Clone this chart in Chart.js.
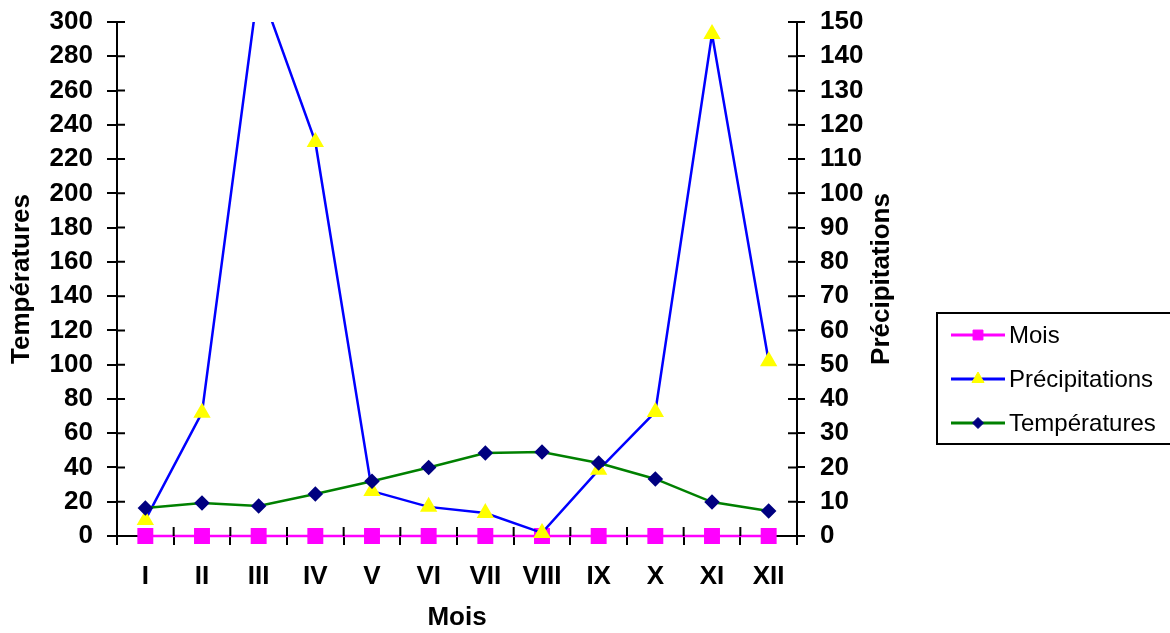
<!DOCTYPE html>
<html>
<head>
<meta charset="utf-8">
<script src="https://cdn.jsdelivr.net/npm/chart.js@4.4.0/dist/chart.umd.min.js"></script>
<style>
  html, body { margin: 0; padding: 0; background: #fff; }
  #wrap { width: 1170px; height: 633px; position: relative; }
</style>
</head>
<body>
<div id="wrap"><canvas id="myChart"></canvas></div>
<script>
// donnees
var mois = ["I", "II", "III", "IV", "V", "VI", "VII", "VIII", "IX", "X", "XI", "XII"];
var moisValeurs = [0, 0, 0, 0, 0, 0, 0, 0, 0, 0, 0, 0];
var precipitations = [4.7, 36, 161, 115, 13.1, 8.5, 6.7, 0.9, 19.3, 36.2, 146.5, 51];
var temperatures = [16.3, 19.3, 17.5, 24.5, 32, 40, 48.4, 49, 42.6, 33.3, 19.8, 14.6];
var ticksTemp = [0, 300, 20];
var ticksPrec = [0, 150, 10];

var fontGras = { family: "'Liberation Sans', Arial, sans-serif", size: 26, weight: 'bold', lineHeight: 1.15 };
var clipBas = { left: 15, top: 0, right: 15, bottom: 15 };

// petits traits vers l'interieur + titre de droite + legende
var extras = {
  id: 'extras',
  afterDraw: function(chart) {
    var ctx = chart.ctx;
    var area = chart.chartArea;
    var yl = chart.scales.yTemp, yr = chart.scales.yPrec, x = chart.scales.x;
    ctx.save();
    ctx.strokeStyle = '#000';
    ctx.lineWidth = 2;
    ctx.beginPath();
    for (var i = 1; i < yl.ticks.length; i++) {
      var p = yl.getPixelForTick(i);
      ctx.moveTo(area.left, p); ctx.lineTo(area.left + 8, p);
    }
    for (var j = 1; j < yr.ticks.length; j++) {
      var q = yr.getPixelForTick(j);
      ctx.moveTo(area.right, q); ctx.lineTo(area.right - 9, q);
    }
    for (var k = 1; k < mois.length; k++) {
      var px = x.getPixelForValue(k - 0.5);
      ctx.moveTo(px, area.bottom); ctx.lineTo(px, area.bottom - 9);
    }
    ctx.stroke();

    // titre axe droit (lu de bas en haut)
    ctx.fillStyle = '#000';
    ctx.font = 'bold 26px "Liberation Sans", Arial, sans-serif';
    ctx.textAlign = 'center';
    ctx.textBaseline = 'middle';
    ctx.translate(882, (area.top + area.bottom) / 2);
    ctx.rotate(-Math.PI / 2);
    ctx.fillText('Précipitations', 0, 0);
    ctx.restore();

    // legende
    ctx.save();
    ctx.strokeStyle = '#000';
    ctx.lineWidth = 2;
    ctx.strokeRect(937, 313, 240, 131);
    var ys = [335, 379, 423];
    chart.data.datasets.forEach(function(ds, n) {
      var y = ys[n];
      ctx.strokeStyle = ds.borderColor;
      ctx.lineWidth = 3;
      ctx.beginPath();
      ctx.moveTo(951, y); ctx.lineTo(1005, y);
      ctx.stroke();
      ctx.fillStyle = ds.pointBackgroundColor;
      ctx.strokeStyle = ds.pointBorderColor;
      ctx.lineWidth = 1;
      Chart.helpers.drawPoint(ctx, { pointStyle: ds.pointStyle, radius: ds.legendRadius, borderWidth: 1 }, 978, y);
      ctx.fillStyle = '#000';
      ctx.font = '24px "Liberation Sans", Arial, sans-serif';
      ctx.textAlign = 'left';
      ctx.textBaseline = 'middle';
      ctx.fillText(ds.label, 1009, y + 1);
    });
    ctx.restore();
  }
};

function sansMarge(s) {
  s.paddingTop = 0;
  s.paddingBottom = 0;
}

var myChart = document.querySelector('#myChart').getContext('2d');

window.climChart = new Chart(myChart, {
  type: 'line',
  data: {
    labels: mois,
    datasets: [{
      label: 'Mois',
      data: moisValeurs,
      yAxisID: 'yTemp',
      borderColor: '#FF00FF',
      backgroundColor: '#FF00FF',
      pointBackgroundColor: '#FF00FF',
      pointBorderColor: '#FF00FF',
      borderWidth: 2.5,
      pointStyle: 'rect',
      pointRadius: 9.5,
      legendRadius: 7,
      clip: clipBas,
      order: 3,
      tension: 0
    }, {
      label: 'Précipitations',
      data: precipitations,
      yAxisID: 'yPrec',
      borderColor: '#0000FF',
      backgroundColor: '#FFFF00',
      pointBackgroundColor: '#FFFF00',
      pointBorderColor: '#FFFF00',
      borderWidth: 2.5,
      pointStyle: 'triangle',
      pointRadius: 7.5,
      legendRadius: 7,
      clip: clipBas,
      order: 2,
      tension: 0
    }, {
      label: 'Températures',
      data: temperatures,
      yAxisID: 'yTemp',
      borderColor: '#008000',
      backgroundColor: '#000080',
      pointBackgroundColor: '#000080',
      pointBorderColor: '#000080',
      borderWidth: 2.5,
      pointStyle: 'rectRot',
      pointRadius: 6,
      legendRadius: 5.5,
      clip: clipBas,
      order: 1,
      tension: 0
    }]
  },
  options: {
    responsive: true,
    maintainAspectRatio: false,
    animation: false,
    layout: { padding: { top: 22, right: 265, bottom: 0, left: 0 } },
    plugins: { legend: { display: false }, tooltip: { enabled: false } },
    scales: {
      x: {
        offset: true,
        grid: { offset: true, drawOnChartArea: false, color: '#000', lineWidth: 2, tickLength: 9 },
        border: { color: '#000', width: 2, z: -1 },
        ticks: { color: '#000', font: fontGras, padding: 17 },
        title: { display: true, text: 'Mois', color: '#000', font: fontGras, padding: 0 },
        afterFit: function(s) { s.height = 97; s.paddingLeft = 0; s.paddingRight = 0; }
      },
      yTemp: {
        position: 'left',
        min: ticksTemp[0], max: ticksTemp[1],
        grid: { drawOnChartArea: false, color: '#000', lineWidth: 2, tickLength: 10 },
        border: { color: '#000', width: 2 },
        ticks: { stepSize: ticksTemp[2], color: '#000', font: fontGras, padding: 14 },
        title: { display: true, text: 'Températures', color: '#000', font: fontGras, padding: 7 },
        afterFit: function(s) { s.width = 117; sansMarge(s); }
      },
      yPrec: {
        position: 'right',
        min: ticksPrec[0], max: ticksPrec[1],
        grid: { drawOnChartArea: false, color: '#000', lineWidth: 2, tickLength: 8 },
        border: { color: '#000', width: 2 },
        ticks: { stepSize: ticksPrec[2], color: '#000', font: fontGras, padding: 15 },
        afterFit: function(s) { s.width = 108; sansMarge(s); }
      }
    }
  },
  plugins: [extras]
});
</script>
</body>
</html>
